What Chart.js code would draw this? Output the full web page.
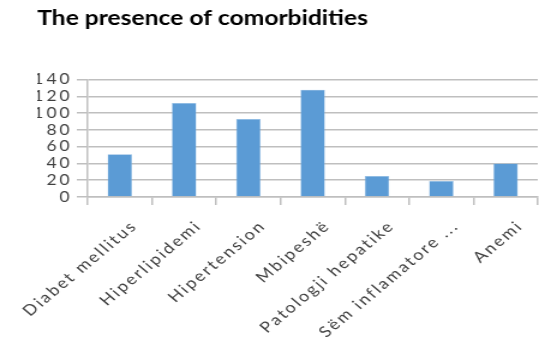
<!DOCTYPE html>
<html>
<head>
<meta charset="utf-8">
<script src="https://cdn.jsdelivr.net/npm/chart.js@4/dist/chart.umd.min.js"></script>
<style>
  html, body { margin: 0; padding: 0; background: #ffffff; }
  #c { display: block; }
</style>
</head>
<body>
<canvas id="c" width="449" height="341" style="width:539px;height:341px"></canvas>
<script>
const titleText = 'The presence of comorbidities';
const categories = ['Diabet mellitus', 'Hiperlipidemi', 'Hipertension', 'Mbipeshë', 'Patologji hepatike', 'Sëm inflamatore ...', 'Anemi'];
const values = [51, 112, 93, 128, 25, 19, 40];
const yTickValues = [0, 20, 40, 60, 80, 100, 120, 140];

// letter spacing for axis tick labels (the reference text is widely spaced)
const labelSpacing = { x: '1.9px', y: '2.5px' };
const spacingPlugin = {
  id: 'labelSpacing',
  afterUpdate(chart) {
    for (const id of ['x', 'y']) {
      const s = chart.scales[id];
      if (s && !s._spacingPatched) {
        const orig = s.drawLabels.bind(s);
        s.drawLabels = (area) => {
          const c = chart.ctx;
          const prev = c.letterSpacing;
          c.letterSpacing = labelSpacing[id];
          orig(area);
          c.letterSpacing = prev;
        };
        s._spacingPatched = true;
      }
    }
  }
};

const ctx = document.getElementById('c');
new Chart(ctx, {
  type: 'bar',
  data: {
    labels: categories,
    datasets: [{
      data: values,
      backgroundColor: '#5b9bd5',
      borderColor: '#8fbbe3',
      borderWidth: 0.5,
      barPercentage: 0.38,
      categoryPercentage: 1.0
    }]
  },
  plugins: [spacingPlugin],
  options: {
    responsive: false,
    devicePixelRatio: 1,
    animation: false,
    layout: { padding: { left: 31, right: 1, top: 0, bottom: 0 } },
    plugins: {
      legend: { display: false },
      tooltip: { enabled: false },
      title: {
        display: true,
        text: titleText,
        align: 'start',
        color: '#000000',
        font: { family: 'Lato', weight: 'bold', size: 20.5 },
        padding: { top: 6, bottom: 49 }
      }
    },
    scales: {
      y: {
        min: 0,
        max: 140,
        afterBuildTicks: (s) => { s.ticks = yTickValues.map(v => ({ value: v })); },
        afterFit: (s) => { s.width = 42; },
        ticks: {
          color: '#404040',
          font: { family: 'Lato', size: 14.5 },
          padding: 3.5,
          autoSkip: false
        },
        grid: { color: '#bfbfbf', lineWidth: 1.5, tickLength: 9 },
        border: { display: true, color: '#bfbfbf', width: 1.5 }
      },
      x: {
        afterFit: (s) => { s.height = 144; },
        ticks: {
          color: '#404040',
          font: { family: 'Lato', size: 15 },
          minRotation: 45,
          maxRotation: 45,
          autoSkip: false,
          padding: 12,
          labelOffset: 12
        },
        grid: { drawOnChartArea: false, color: '#bfbfbf', lineWidth: 1.5, tickLength: 8 },
        border: { display: true, color: '#bfbfbf', width: 1.5 }
      }
    }
  }
});
</script>
</body>
</html>
